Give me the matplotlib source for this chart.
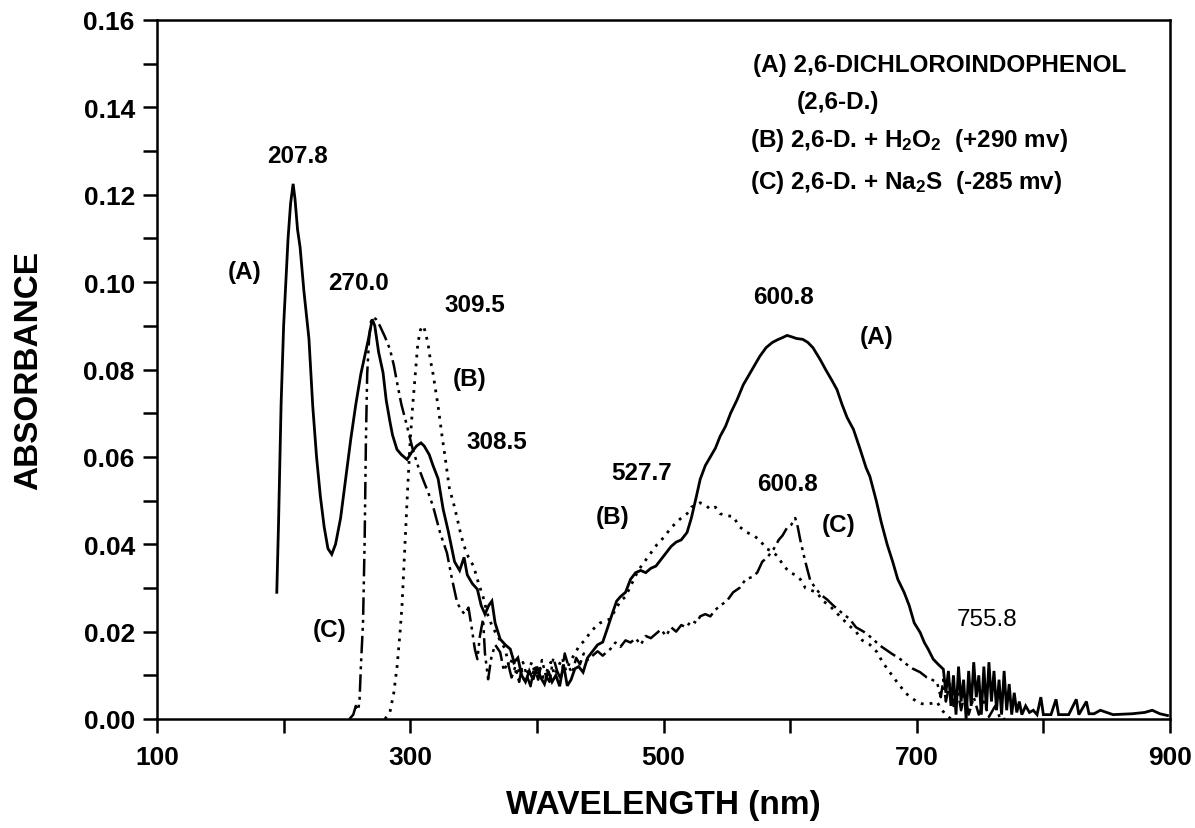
import matplotlib
matplotlib.use("Agg")
import matplotlib.pyplot as plt
from matplotlib.ticker import MultipleLocator, FixedLocator

plt.rcParams['font.family'] = ['Liberation Sans', 'DejaVu Sans']
plt.rcParams['font.weight'] = 'bold'
plt.rcParams['mathtext.fontset'] = 'custom'
plt.rcParams['mathtext.bf'] = 'Liberation Sans:bold'
plt.rcParams['mathtext.rm'] = 'Liberation Sans:bold'
plt.rcParams['mathtext.default'] = 'bf'

# (A) 2,6-dichloroindophenol, solid
wl_a = [194.6, 196, 198, 200, 203.5, 205.5, 207.5, 209, 211, 213, 216, 220, 223, 226, 229,
        232, 235, 238, 241, 245, 249, 253, 257, 261, 264, 267, 270, 272, 275, 278.5, 281,
        284, 286, 289.5, 293, 297.5, 301, 305, 308.5, 311, 315, 318, 322, 326, 330, 335,
        339, 342.5, 345, 349, 353, 356, 359, 362, 364.5, 367, 371, 375, 379, 382, 385, 388,
        391, 394, 397, 400, 403, 406, 409, 412, 415, 418, 421, 424, 427, 430, 433, 436.5,
        440, 444, 448, 452, 456, 460, 463, 466, 470, 474, 478, 482, 486, 490, 494, 498,
        502, 506, 510, 514, 518.6, 522, 526, 529, 533, 537, 541, 544.7, 549, 553, 558, 563,
        568, 572, 576, 581, 586, 590, 594, 597.6, 601, 605, 610, 614, 618, 623.7, 628, 633,
        637, 641, 645, 650, 655, 660, 663, 668, 672, 676.6, 681, 685, 690, 694, 698, 702.7,
        706, 709, 713, 717, 721, 723, 725, 727, 729, 731, 733, 735, 737, 739, 741, 743, 745,
        747, 749, 751, 753, 755, 757, 759, 761, 763, 765, 767, 769, 771, 773, 775, 777, 779,
        781, 783, 786, 789, 792, 795, 798, 800, 806, 810, 812, 820, 826, 828, 834, 836, 840,
        845, 850, 855, 870, 880, 886, 892, 898]
abs_a = [0.029, 0.045, 0.072, 0.090, 0.110, 0.118, 0.1225, 0.119, 0.112, 0.108, 0.098, 0.087,
         0.0716, 0.060, 0.051, 0.044, 0.039, 0.0377, 0.040, 0.046, 0.055, 0.064, 0.072, 0.079,
         0.083, 0.087, 0.0915, 0.090, 0.084, 0.0793, 0.073, 0.068, 0.065, 0.0617, 0.0605,
         0.0594, 0.061, 0.0625, 0.0632, 0.0625, 0.0605, 0.058, 0.055, 0.048, 0.043, 0.036,
         0.034, 0.037, 0.033, 0.031, 0.0297, 0.026, 0.024, 0.026, 0.027, 0.022, 0.0183, 0.017,
         0.016, 0.013, 0.014, 0.010, 0.0085, 0.011, 0.009, 0.012, 0.0095, 0.008, 0.011, 0.0085,
         0.010, 0.0075, 0.0125, 0.0076, 0.009, 0.0115, 0.012, 0.0107, 0.014, 0.0155, 0.017,
         0.0176, 0.021, 0.0245, 0.027, 0.028, 0.029, 0.032, 0.0335, 0.034, 0.0335, 0.0345,
         0.035, 0.0365, 0.038, 0.0395, 0.0405, 0.041, 0.0427, 0.046, 0.051, 0.0549, 0.058,
         0.060, 0.062, 0.0647, 0.067, 0.070, 0.073, 0.0765, 0.079, 0.081, 0.083, 0.085, 0.0862,
         0.0868, 0.0873, 0.0878, 0.0875, 0.0871, 0.0869, 0.0862, 0.085, 0.0823, 0.080, 0.0775,
         0.0754, 0.072, 0.069, 0.0663, 0.062, 0.0575, 0.0555, 0.050, 0.045, 0.040, 0.036,
         0.032, 0.029, 0.026, 0.022, 0.0198, 0.0175, 0.016, 0.0137, 0.0125, 0.0114, 0.006,
         0.011, 0.003, 0.010, 0.001, 0.012, 0.004, 0.009, 0.0, 0.011, 0.003, 0.013, 0.005,
         0.010, 0.001, 0.012, 0.002, 0.013, 0.004, 0.011, 0.002, 0.009, 0.001, 0.011, 0.002,
         0.008, 0.001, 0.006, 0.0015, 0.004, 0.001, 0.003, 0.0015, 0.002, 0.001, 0.005, 0.001,
         0.001, 0.0045, 0.001, 0.001, 0.0045, 0.001, 0.004, 0.0012, 0.0012, 0.002, 0.0015,
         0.001, 0.0012, 0.0015, 0.002, 0.0012, 0.0008]

# (B) 2,6-D. + H2O2, dotted
wl_b = [280, 284, 287, 289.6, 292, 293.5, 296, 298, 300, 302, 304, 306, 308, 309.5, 311, 314,
        316, 318, 322, 325, 327.5, 331, 334, 337, 339, 342, 346, 350, 354, 357.5, 361, 365,
        371, 375, 378, 381, 384, 387, 390, 393, 396, 399, 402, 405, 408, 411, 414, 417, 420,
        423, 426, 430, 434, 438, 442, 446, 450, 454, 458, 462, 466, 470, 475, 480, 485, 490,
        495, 500, 505, 510, 514, 518.6, 522, 526, 529, 533, 537, 541, 544.7, 550, 555, 560,
        566, 571, 576, 581, 585, 590, 595, 600, 604, 608, 612, 616, 621, 626, 631, 636, 641,
        647, 652, 657, 663, 668.7, 673, 678, 683, 687, 691, 695, 700, 704, 708, 712, 716,
        720, 723, 727]
abs_b = [0.0, 0.0016, 0.006, 0.012, 0.020, 0.026, 0.041, 0.053, 0.064, 0.072, 0.079, 0.086,
         0.089, 0.090, 0.0895, 0.086, 0.082, 0.079, 0.0716, 0.065, 0.060, 0.0526, 0.0496,
         0.046, 0.0434, 0.040, 0.037, 0.035, 0.031, 0.028, 0.024, 0.021, 0.018, 0.016, 0.012,
         0.014, 0.010, 0.012, 0.009, 0.011, 0.013, 0.010, 0.012, 0.0095, 0.011, 0.013, 0.010,
         0.012, 0.014, 0.011, 0.013, 0.015, 0.017, 0.018, 0.0198, 0.021, 0.022, 0.0225, 0.0229,
         0.025, 0.027, 0.028, 0.031, 0.034, 0.036, 0.038, 0.040, 0.0415, 0.0434, 0.045, 0.046,
         0.047, 0.0485, 0.049, 0.0495, 0.049, 0.048, 0.0485, 0.047, 0.0465, 0.0464, 0.044,
         0.0427, 0.042, 0.041, 0.039, 0.0385, 0.0373, 0.035, 0.0335, 0.033, 0.032, 0.030,
         0.0295, 0.029, 0.027, 0.026, 0.0245, 0.023, 0.0213, 0.020, 0.018, 0.017, 0.0153,
         0.013, 0.011, 0.009, 0.0075, 0.006, 0.005, 0.004, 0.0035, 0.0034, 0.0036, 0.0039,
         0.002, 0.001, 0.0]

# (C) 2,6-D. + Na2S, dash-dot-dot
wl_c = [252, 255, 257, 259, 260, 261, 262.7, 264, 265, 266, 267.5, 269, 270.6, 273, 276, 280,
        284, 287, 289.6, 293, 297.5, 302, 306, 310, 314, 318, 323.5, 329, 333, 337, 340, 343,
        346, 349, 351, 353, 355, 357.5, 359, 361.5, 364, 367, 371, 374, 377, 380, 383, 386,
        389, 392, 395, 398, 401, 404, 407, 410, 413, 416, 419, 422, 425, 428, 431, 434, 437,
        440, 444, 448, 452, 455, 458, 462, 466, 470, 474, 478, 482, 486, 490, 494, 498, 502,
        506, 510, 514, 518, 522, 526, 529, 533, 537, 541, 545, 550, 555, 560, 565, 570, 574,
        578, 582, 587, 591, 594, 597.6, 601, 604, 606, 608, 612, 616, 620, 624, 629, 634, 640,
        647, 652, 658, 665.6, 670, 675, 680, 687, 692, 697, 702.7, 708, 712, 716, 719, 721,
        723, 726, 729, 732, 735, 738, 741, 745, 749, 753, 757, 762, 766, 770]
abs_c = [0.0, 0.001, 0.003, 0.002, 0.0046, 0.012, 0.022, 0.041, 0.064, 0.079, 0.087, 0.091,
         0.092, 0.0915, 0.090, 0.0875, 0.0846, 0.081, 0.077, 0.072, 0.067, 0.0617, 0.058,
         0.0549, 0.052, 0.0487, 0.0427, 0.038, 0.032, 0.0267, 0.025, 0.024, 0.0255, 0.020,
         0.016, 0.0137, 0.019, 0.0229, 0.015, 0.0091, 0.014, 0.017, 0.0153, 0.011, 0.013,
         0.0095, 0.012, 0.0085, 0.013, 0.010, 0.0075, 0.012, 0.009, 0.0135, 0.010, 0.0085,
         0.014, 0.011, 0.009, 0.015, 0.012, 0.0105, 0.014, 0.0125, 0.015, 0.0135, 0.0145,
         0.0155, 0.0145, 0.0153, 0.016, 0.0175, 0.0165, 0.018, 0.0175, 0.0185, 0.017, 0.019,
         0.0185, 0.0195, 0.0205, 0.019, 0.021, 0.020, 0.0215, 0.021, 0.0225, 0.022, 0.0235,
         0.024, 0.0235, 0.025, 0.026, 0.027, 0.029, 0.030, 0.032, 0.0325, 0.0335, 0.036,
         0.037, 0.0389, 0.041, 0.042, 0.0438, 0.0445, 0.046, 0.044, 0.041, 0.036, 0.0316,
         0.030, 0.0285, 0.0274, 0.026, 0.0245, 0.0229, 0.021, 0.020, 0.0183, 0.017, 0.016,
         0.015, 0.0137, 0.0125, 0.0115, 0.0107, 0.0095, 0.009, 0.0084, 0.005, 0.009, 0.004,
         0.008, 0.003, 0.007, 0.002, 0.006, 0.001, 0.005, 0.001, 0.004, 0.0005, 0.003, 0.0,
         0.0]

peak_labels = ['207.8', '(A)', '270.0', '309.5', '(B)', '308.5', '(C)', '600.8', '(A)',
               '527.7', '(B)', '600.8', '(C)']
peak_x = [211, 169.5, 258.8, 351, 347, 368.6, 236.6, 594.5, 668, 483, 460, 597.6, 638]
peak_y = [0.129, 0.1024, 0.0999, 0.0949, 0.078, 0.0635, 0.0206, 0.0967, 0.0875, 0.0565,
          0.0464, 0.054, 0.0446]

legend_lines = ['(A) 2,6-DICHLOROINDOPHENOL', '(2,6-D.)',
                '(B) 2,6-D. + H$_2$O$_2$  (+290 mv)', '(C) 2,6-D. + Na$_2$S  (-285 mv)']
legend_x = [570.8, 605.5, 568.4, 568.4]
legend_y = [0.1497, 0.1413, 0.1326, 0.1230]

fig = plt.figure(figsize=(11.95, 8.29), dpi=100)
ax = fig.add_axes([157 / 1195, 1 - 720 / 829, (1170 - 157) / 1195, (720 - 21) / 829])

ax.plot(wl_a, abs_a, color='black', lw=2.0, solid_joinstyle='miter')
ax.plot(wl_b, abs_b, color='black', lw=2.0, linestyle=(0, (1, 2.2)))
ax.plot(wl_c, abs_c, color='black', lw=1.8, linestyle=(0, (7, 2, 1.2, 2, 1.2, 2)))

for t, x, y in zip(peak_labels, peak_x, peak_y):
    ax.text(x, y, t, ha='center', va='center', fontsize=17.5, fontweight='bold')
ax.text(755.6, 0.023, '755.8', ha='center', va='center', fontsize=17.5, fontweight='normal')

for t, x, y in zip(legend_lines, legend_x, legend_y):
    ax.text(x, y, t, ha='left', va='center', fontsize=17.5, fontweight='bold')

ax.set_xlim(100, 900)
ax.set_ylim(0, 0.16)
ax.xaxis.set_major_locator(FixedLocator([100, 300, 500, 700, 900]))
ax.xaxis.set_minor_locator(FixedLocator([200, 400, 600, 800]))
ax.yaxis.set_major_locator(MultipleLocator(0.02))
ax.yaxis.set_minor_locator(MultipleLocator(0.01))
ax.set_yticklabels(['%.2f' % v for v in ax.get_yticks()])
ax.tick_params(which='both', direction='out', length=10, width=1.8, labelsize=19, pad=6)
ax.tick_params(axis='x', pad=9)
for s in ax.spines.values():
    s.set_linewidth(1.8)

ax.set_xlabel('WAVELENGTH (nm)', fontsize=24, fontweight='bold')
ax.set_ylabel('ABSORBANCE', fontsize=24, fontweight='bold')
ax.xaxis.set_label_coords(0.5, (720 - 790) / 699)
ax.yaxis.set_label_coords((44 - 157) / 1013, 0.5)

fig.savefig('out.png', dpi=100)
